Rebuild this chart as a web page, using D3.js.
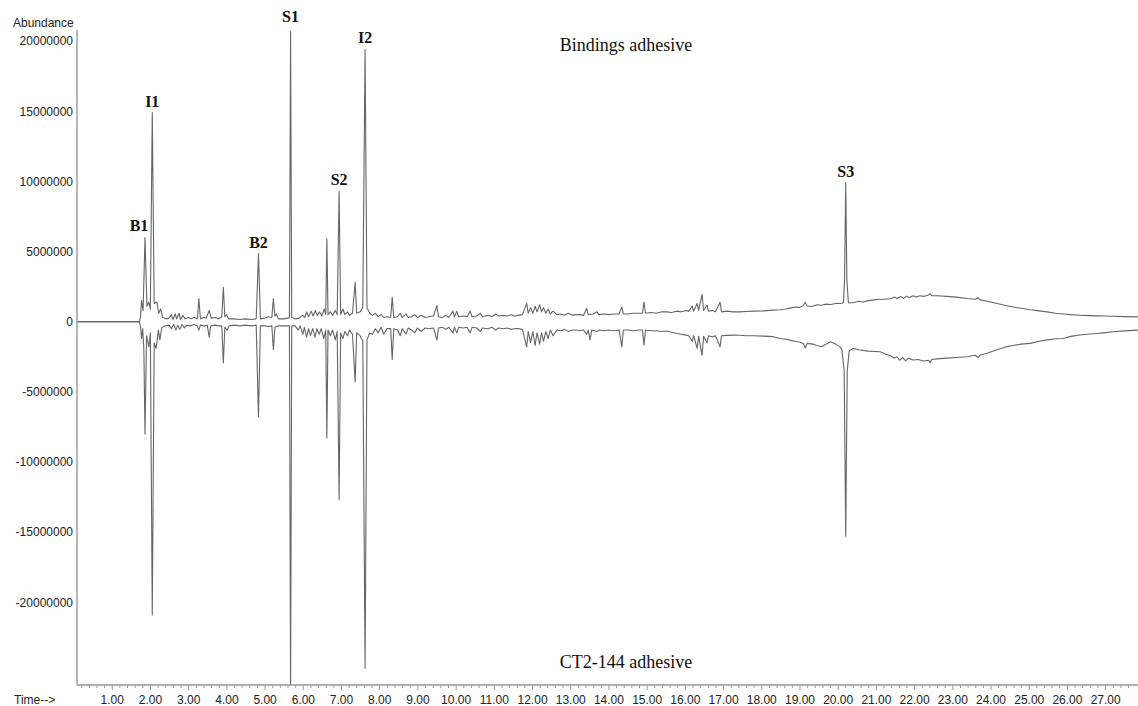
<!DOCTYPE html>
<html>
<head>
<meta charset="utf-8">
<script src="https://cdn.jsdelivr.net/npm/d3@7"></script>
<style>
  body { margin: 0; background: #fff; }
  svg { display: block; }
</style>
</head>
<body>
<script>
// abundance values are in millions, time in minutes
let bindingsTrace = [
  [0.09,0],[1.72,0],[1.75,0.3],[1.78,1.5],[1.82,0.8],[1.87,6.0],[1.92,1.1],[1.97,1.4],[2.01,0.9],[2.06,14.9],
  [2.11,1.3],[2.18,1.4],[2.23,0.6],[2.28,0.9],[2.33,0.3],[2.42,0.2],[2.5,0.25],[2.56,0.5],[2.6,0.15],[2.66,0.55],
  [2.7,0.2],[2.76,0.6],[2.8,0.15],[2.86,0.45],[2.92,0.2],[3.0,0.3],[3.08,0.2],[3.16,0.3],[3.24,0.2],[3.28,1.65],
  [3.32,0.2],[3.4,0.3],[3.47,0.25],[3.55,0.8],[3.6,0.25],[3.7,0.3],[3.8,0.2],[3.88,0.35],[3.92,2.45],[3.96,0.35],
  [4.0,0.5],[4.06,0.2],[4.2,0.2],[4.35,0.15],[4.5,0.2],[4.65,0.15],[4.78,0.2],[4.84,4.85],[4.89,0.2],[5.0,0.25],
  [5.1,0.35],[5.19,0.3],[5.23,1.65],[5.27,0.4],[5.31,0.55],[5.36,0.2],[5.5,0.2],[5.6,0.25],[5.65,0.3],[5.68,20.7],
  [5.71,0.3],[5.8,0.2],[5.9,0.25],[6.0,0.45],[6.05,0.3],[6.1,0.7],[6.15,0.35],[6.22,0.75],[6.27,0.4],[6.33,0.8],
  [6.38,0.45],[6.44,0.7],[6.5,0.4],[6.56,0.9],[6.6,0.5],[6.63,5.9],[6.66,0.5],[6.72,0.7],[6.78,0.45],[6.85,0.8],
  [6.9,0.5],[6.95,9.3],[6.99,0.5],[7.05,0.9],[7.1,0.5],[7.17,0.7],[7.22,0.45],[7.3,0.6],[7.37,2.8],[7.41,0.6],
  [7.5,0.7],[7.57,1.0],[7.63,19.4],[7.68,1.0],[7.75,0.6],[7.82,0.45],[7.9,0.6],[7.97,0.35],[8.05,0.5],[8.12,0.3],
  [8.2,0.35],[8.3,0.3],[8.34,1.75],[8.38,0.3],[8.48,0.35],[8.55,0.6],[8.6,0.3],[8.7,0.55],[8.76,0.3],[8.85,0.35],
  [8.93,0.5],[9.0,0.3],[9.1,0.45],[9.2,0.3],[9.3,0.35],[9.42,0.4],[9.51,1.15],[9.55,0.35],[9.65,0.3],[9.75,0.45],
  [9.82,0.3],[9.93,0.75],[9.97,0.35],[10.03,0.75],[10.08,0.35],[10.2,0.4],[10.3,0.35],[10.38,0.75],[10.43,0.35],[10.55,0.4],
  [10.65,0.6],[10.7,0.35],[10.85,0.45],[10.95,0.35],[11.05,0.55],[11.12,0.4],[11.25,0.45],[11.35,0.4],[11.45,0.5],[11.55,0.4],
  [11.65,0.45],[11.75,0.5],[11.86,1.3],[11.9,0.6],[11.96,1.0],[12.02,0.6],[12.08,1.1],[12.13,0.7],[12.2,1.2],[12.25,0.7],
  [12.3,1.0],[12.36,0.6],[12.42,0.9],[12.48,0.55],[12.55,0.75],[12.65,0.5],[12.75,0.55],[12.85,0.45],[12.95,0.6],[13.05,0.45],
  [13.15,0.5],[13.25,0.5],[13.35,0.45],[13.43,0.95],[13.47,0.5],[13.6,0.55],[13.7,0.7],[13.75,0.5],[13.9,0.55],[14.0,0.5],
  [14.15,0.55],[14.28,0.55],[14.35,1.05],[14.39,0.55],[14.5,0.55],[14.65,0.6],[14.8,0.6],[14.89,0.6],[14.93,1.4],[14.97,0.6],
  [15.1,0.65],[15.25,0.6],[15.4,0.7],[15.53,0.7],[15.65,0.65],[15.8,0.75],[15.9,0.7],[16.03,0.8],[16.1,0.75],[16.19,1.1],
  [16.23,0.75],[16.32,1.3],[16.36,0.8],[16.45,1.95],[16.49,0.8],[16.58,1.17],[16.62,0.75],[16.72,0.8],[16.8,0.7],[16.92,1.38],
  [16.96,0.7],[17.1,0.75],[17.26,0.7],[17.45,0.7],[17.6,0.72],[17.8,0.75],[18.05,0.77],[18.31,0.82],[18.49,0.85],[18.65,0.9],
  [18.8,1.0],[18.94,1.05],[19.0,1.0],[19.1,1.15],[19.15,1.38],[19.2,1.1],[19.35,1.1],[19.45,1.2],[19.57,1.17],[19.7,1.25],
  [19.81,1.22],[19.95,1.3],[20.06,1.29],[20.15,1.35],[20.18,3.0],[20.21,9.9],[20.24,3.0],[20.28,1.35],[20.4,1.35],[20.55,1.45],
  [20.66,1.4],[20.8,1.5],[20.95,1.55],[21.11,1.6],[21.25,1.6],[21.4,1.65],[21.5,1.75],[21.55,1.65],[21.65,1.8],[21.72,1.65],
  [21.8,1.82],[21.87,1.7],[21.97,1.85],[22.05,1.75],[22.15,1.85],[22.25,1.8],[22.38,1.9],[22.42,2.0],[22.46,1.85],[22.6,1.85],
  [22.86,1.8],[23.1,1.75],[23.39,1.65],[23.6,1.6],[23.68,1.7],[23.73,1.55],[23.91,1.45],[24.17,1.3],[24.4,1.15],[24.59,1.05],
  [24.8,0.95],[25.04,0.85],[25.27,0.77],[25.48,0.7],[25.7,0.6],[25.9,0.55],[26.1,0.5],[26.34,0.46],[26.6,0.43],[26.79,0.41],
  [27.0,0.4],[27.21,0.39],[27.5,0.36],[27.86,0.34]
];

let ct2Trace = [
  [0.09,0],[1.72,0],[1.75,-0.3],[1.78,-1.2],[1.81,-0.5],[1.84,-2.0],[1.87,-8.0],[1.91,-1.0],[1.97,-1.8],[2.01,-0.8],
  [2.06,-20.9],[2.11,-1.5],[2.16,-1.9],[2.22,-0.6],[2.26,-1.3],[2.31,-0.4],[2.4,-0.3],[2.5,-0.25],[2.56,-0.5],[2.62,-0.2],
  [2.68,-0.6],[2.73,-0.25],[2.78,-0.55],[2.84,-0.2],[2.9,-0.45],[2.96,-0.25],[3.05,-0.3],[3.15,-0.2],[3.24,-0.3],[3.28,-0.6],
  [3.32,-0.25],[3.42,-0.3],[3.5,-0.25],[3.55,-1.1],[3.59,-0.3],[3.7,-0.25],[3.8,-0.3],[3.88,-0.3],[3.92,-2.95],[3.96,-0.4],
  [4.02,-0.6],[4.07,-0.3],[4.2,-0.25],[4.35,-0.3],[4.5,-0.25],[4.65,-0.3],[4.78,-0.25],[4.84,-6.8],[4.89,-0.3],[5.0,-0.3],
  [5.1,-0.35],[5.19,-0.3],[5.23,-2.0],[5.27,-0.4],[5.36,-0.3],[5.5,-0.3],[5.6,-0.3],[5.65,-0.3],[5.68,-26.5],[5.71,-0.3],
  [5.8,-0.3],[5.88,-0.6],[5.93,-0.3],[6.0,-0.9],[6.04,-0.4],[6.1,-1.1],[6.15,-0.5],[6.2,-1.0],[6.26,-0.5],[6.32,-1.1],
  [6.37,-0.5],[6.43,-0.9],[6.48,-0.5],[6.55,-1.2],[6.6,-0.6],[6.63,-8.3],[6.66,-0.6],[6.72,-1.0],[6.78,-0.6],[6.85,-1.3],
  [6.9,-0.7],[6.95,-12.7],[6.99,-0.8],[7.05,-1.2],[7.1,-0.7],[7.17,-1.0],[7.22,-0.6],[7.3,-0.9],[7.37,-4.3],[7.41,-0.8],
  [7.5,-1.0],[7.57,-1.4],[7.63,-24.7],[7.68,-1.3],[7.75,-0.8],[7.82,-0.9],[7.9,-0.5],[7.97,-0.8],[8.05,-0.4],[8.12,-0.9],
  [8.2,-0.5],[8.3,-0.5],[8.34,-2.7],[8.38,-0.5],[8.48,-0.6],[8.55,-1.0],[8.6,-0.5],[8.7,-0.9],[8.76,-0.45],[8.85,-0.6],
  [8.93,-0.8],[9.0,-0.45],[9.1,-0.7],[9.2,-0.45],[9.3,-0.5],[9.42,-0.45],[9.51,-1.3],[9.55,-0.45],[9.65,-0.4],[9.75,-0.55],
  [9.82,-0.4],[9.93,-0.8],[9.97,-0.4],[10.03,-0.8],[10.08,-0.4],[10.2,-0.45],[10.3,-0.4],[10.38,-0.8],[10.43,-0.4],[10.55,-0.45],
  [10.65,-0.7],[10.7,-0.45],[10.85,-0.5],[10.95,-0.4],[11.05,-0.6],[11.12,-0.45],[11.25,-0.5],[11.35,-0.45],[11.45,-0.55],[11.55,-0.5],
  [11.65,-0.5],[11.75,-0.55],[11.86,-1.8],[11.9,-0.7],[11.96,-1.5],[12.02,-0.7],[12.08,-1.7],[12.13,-0.8],[12.2,-1.6],[12.25,-0.8],
  [12.3,-1.4],[12.36,-0.7],[12.42,-1.2],[12.48,-0.6],[12.55,-1.0],[12.65,-0.6],[12.75,-0.65],[12.85,-0.55],[12.95,-0.7],[13.05,-0.6],
  [13.15,-0.6],[13.25,-0.65],[13.35,-0.6],[13.43,-0.9],[13.47,-0.6],[13.52,-1.3],[13.56,-0.6],[13.7,-0.7],[13.75,-0.6],[13.9,-0.65],
  [14.0,-0.6],[14.15,-0.65],[14.28,-0.6],[14.35,-1.8],[14.39,-0.6],[14.5,-0.6],[14.65,-0.65],[14.8,-0.6],[14.89,-0.6],[14.93,-1.67],
  [14.97,-0.6],[15.1,-0.65],[15.25,-0.65],[15.4,-0.7],[15.53,-0.67],[15.65,-0.75],[15.8,-0.85],[15.9,-0.9],[16.03,-0.96],[16.1,-1.0],
  [16.19,-1.4],[16.23,-1.0],[16.32,-1.9],[16.36,-1.05],[16.45,-2.4],[16.49,-1.05],[16.58,-1.5],[16.62,-1.0],[16.72,-1.1],[16.8,-1.0],
  [16.92,-1.8],[16.96,-1.0],[17.1,-0.98],[17.26,-0.96],[17.45,-0.97],[17.6,-1.0],[17.8,-1.0],[18.05,-1.03],[18.31,-1.07],[18.49,-1.2],
  [18.65,-1.25],[18.8,-1.35],[18.94,-1.43],[19.0,-1.45],[19.1,-1.55],[19.15,-1.88],[19.2,-1.55],[19.35,-1.6],[19.45,-1.7],[19.57,-1.79],
  [19.7,-1.6],[19.81,-1.43],[19.95,-1.6],[20.06,-1.8],[20.11,-2.0],[20.17,-3.5],[20.21,-15.3],[20.25,-3.5],[20.3,-2.1],[20.4,-1.9],
  [20.55,-2.0],[20.66,-2.05],[20.8,-2.1],[21.11,-2.14],[21.25,-2.3],[21.4,-2.45],[21.47,-2.6],[21.55,-2.5],[21.62,-2.75],[21.7,-2.55],
  [21.78,-2.8],[21.85,-2.6],[21.97,-2.73],[22.1,-2.7],[22.25,-2.8],[22.38,-2.75],[22.42,-2.95],[22.46,-2.7],[22.6,-2.65],[22.86,-2.6],
  [23.1,-2.55],[23.39,-2.5],[23.6,-2.4],[23.68,-2.55],[23.73,-2.38],[23.91,-2.25],[24.17,-2.0],[24.4,-1.8],[24.59,-1.7],[24.8,-1.6],
  [25.04,-1.55],[25.27,-1.4],[25.48,-1.3],[25.7,-1.22],[25.9,-1.2],[26.1,-1.05],[26.34,-0.95],[26.6,-0.88],[26.79,-0.84],[27.0,-0.78],
  [27.21,-0.72],[27.5,-0.66],[27.86,-0.6]
];

let peakNames = ['B1', 'I1', 'B2', 'S1', 'S2', 'I2', 'S3'];
let peakTimes = [1.87, 2.06, 4.84, 5.68, 6.95, 7.63, 20.21];
let peakTops = [6.0, 14.9, 4.85, 20.7, 9.3, 19.4, 9.9];

let abundanceTicks = [20, 15, 10, 5, 0, -5, -10, -15, -20];
let timeTicks = [1, 2, 3, 4, 5, 6, 7, 8, 9, 10, 11, 12, 13, 14, 15, 16, 17, 18, 19, 20, 21, 22, 23, 24, 25, 26, 27];

let w = 1138,
  h = 706,
  plotLeft = 77,
  plotRight = 1138,
  plotTop = 30,
  plotBottom = 685;

let x = d3.scaleLinear().domain([0.09, 27.86]).range([plotLeft, plotRight]);
let y = d3.scaleLinear().domain([-25.9, 20.79]).range([plotBottom, plotTop]);

let svg = d3.select('body')
  .append('svg')
  .attr('width', w)
  .attr('height', h);

svg.append('clipPath')
  .attr('id', 'plot')
  .append('rect')
  .attr('x', plotLeft)
  .attr('y', 0)
  .attr('width', plotRight - plotLeft)
  .attr('height', plotBottom);

let line = d3.line()
  .x(d => x(d[0]))
  .y(d => y(d[1]));

[bindingsTrace, ct2Trace].forEach(tr => {
  svg.append('path')
    .datum(tr)
    .attr('clip-path', 'url(#plot)')
    .attr('fill', 'none')
    .attr('stroke', '#666')
    .attr('stroke-width', 1.1)
    .attr('stroke-linejoin', 'round')
    .attr('d', line);
});

// axes
let sans = '"Liberation Sans", Arial, sans-serif';
let serif = '"Liberation Serif", "Times New Roman", serif';

let yAxis = svg.append('g')
  .attr('transform', `translate(${plotLeft},0)`)
  .call(d3.axisLeft(y)
    .tickValues(abundanceTicks)
    .tickSize(0)
    .tickPadding(4)
    .tickFormat(d => String(Math.round(d * 1e6))));
yAxis.select('.domain').remove();
yAxis.selectAll('text')
  .attr('font-family', sans)
  .attr('font-size', '12px')
  .attr('fill', '#222');

svg.append('line')
  .attr('x1', plotLeft).attr('x2', plotLeft)
  .attr('y1', plotTop).attr('y2', plotBottom)
  .attr('stroke', '#999')
  .attr('stroke-width', 1.4);

let minorTicks = d3.range(1, 139).map(i => i * 0.2).filter(t => Math.abs(t - Math.round(t)) > 0.01);

let xMinor = svg.append('g')
  .attr('transform', `translate(0,${plotBottom})`)
  .call(d3.axisBottom(x).tickValues(minorTicks).tickSize(3).tickFormat(''));
xMinor.select('.domain').remove();
xMinor.selectAll('line').attr('stroke', '#999');

let xAxis = svg.append('g')
  .attr('transform', `translate(0,${plotBottom})`)
  .call(d3.axisBottom(x)
    .tickValues(timeTicks)
    .tickSize(5)
    .tickPadding(5)
    .tickFormat(d3.format('.2f')));
xAxis.select('.domain').remove();
xAxis.selectAll('line').attr('stroke', '#999');
xAxis.selectAll('text')
  .attr('font-family', sans)
  .attr('font-size', '12px')
  .attr('fill', '#222');

svg.append('line')
  .attr('x1', plotLeft).attr('x2', plotRight)
  .attr('y1', plotBottom).attr('y2', plotBottom)
  .attr('stroke', '#999')
  .attr('stroke-width', 1.4);

svg.append('text')
  .attr('x', 13)
  .attr('y', 27)
  .attr('font-family', sans)
  .attr('font-size', '12px')
  .attr('fill', '#222')
  .text('Abundance');

svg.append('text')
  .attr('x', 14)
  .attr('y', 704)
  .attr('font-family', sans)
  .attr('font-size', '12px')
  .attr('fill', '#222')
  .text('Time-->');

// peak labels
let nudge = { B1: -6, S1: -3 };
svg.selectAll('text.peak')
  .data(peakNames)
  .enter()
  .append('text')
  .attr('class', 'peak')
  .attr('x', (d, i) => x(peakTimes[i]) + (d === 'B1' ? nudge.B1 : 0))
  .attr('y', (d, i) => y(peakTops[i]) - 6 + (d === 'S1' ? nudge.S1 : 0))
  .attr('text-anchor', 'middle')
  .attr('font-family', serif)
  .attr('font-size', '16px')
  .attr('font-weight', 'bold')
  .attr('fill', '#111')
  .text(d => d);

svg.append('text')
  .attr('x', 626)
  .attr('y', 51)
  .attr('text-anchor', 'middle')
  .attr('font-family', serif)
  .attr('font-size', '18px')
  .attr('fill', '#111')
  .text('Bindings adhesive');

svg.append('text')
  .attr('x', 626)
  .attr('y', 668)
  .attr('text-anchor', 'middle')
  .attr('font-family', serif)
  .attr('font-size', '18px')
  .attr('fill', '#111')
  .text('CT2-144 adhesive');
</script>
</body>
</html>
